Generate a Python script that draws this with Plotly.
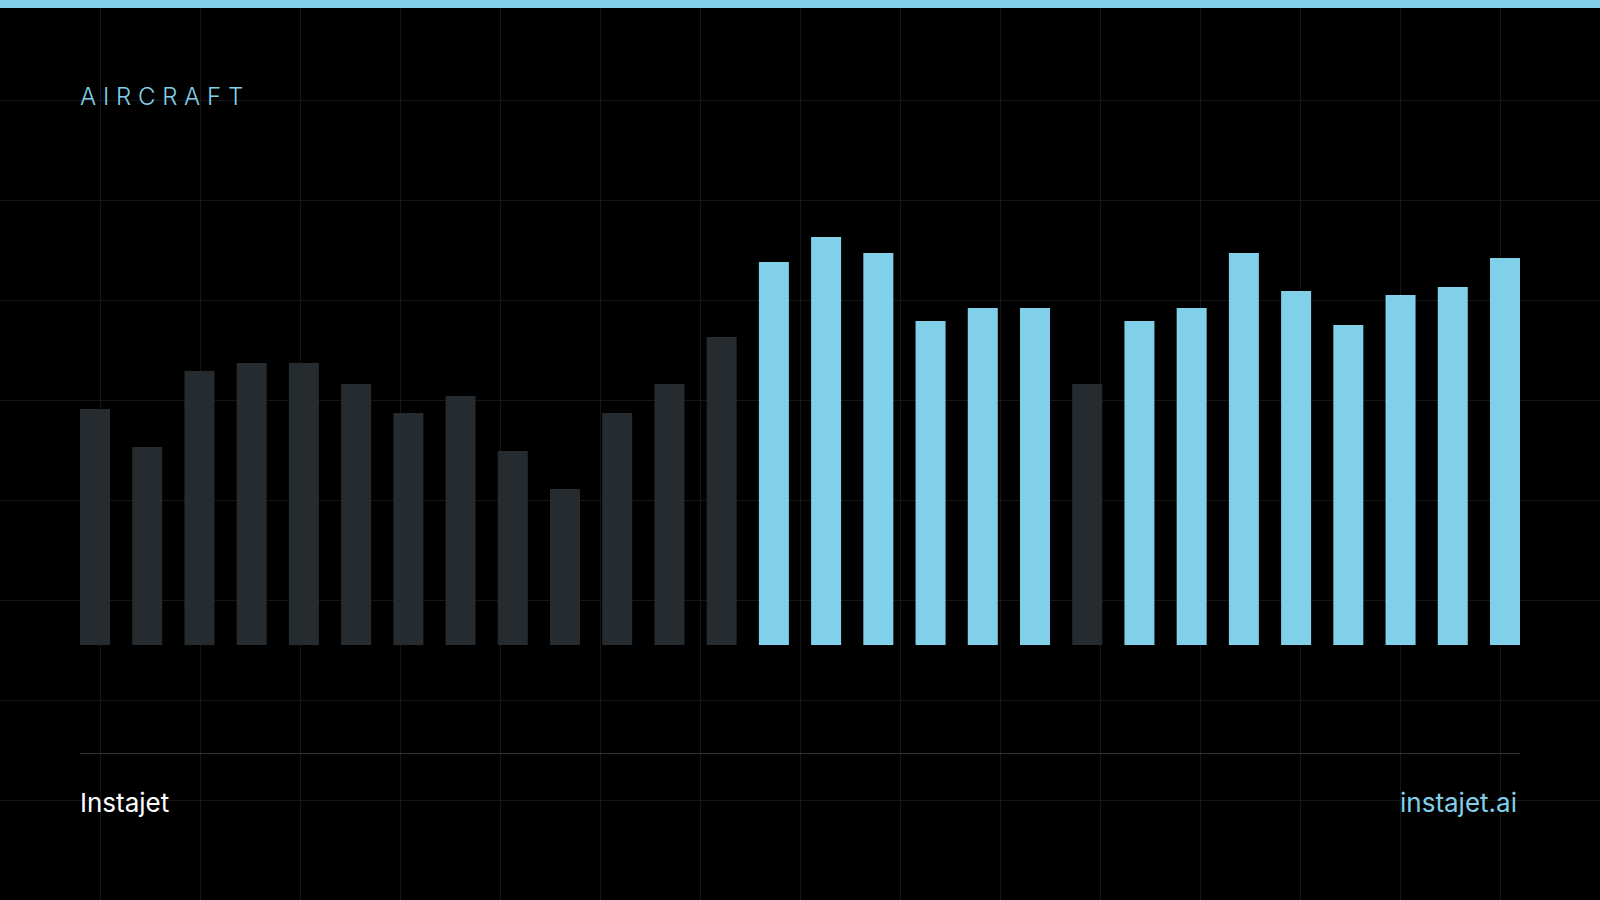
import plotly.graph_objects as go

# bar values (arbitrary units), one per period
periods = list(range(1, 29))
aircraft = [236, 198, 274, 282, 282, 261, 232, 249, 194, 156, 232, 261, 308, 383,
            408, 392, 324, 337, 337, 261, 324, 337, 392, 354, 320, 350, 358, 387]
highlight = [False] * 13 + [True] * 6 + [False] + [True] * 8

BG = "#000000"
DARK = "#252b2e"
LIGHT = "#80d0ea"
GRID = "#161616"

W, H = 1600, 900
bar_w = 30 / 52.22

fig = go.Figure()

# background grid, whole page, 100px squares
fig.add_trace(go.Scatter(x=[], y=[], xaxis="x", yaxis="y", showlegend=False, hoverinfo="skip"))

fig.add_trace(go.Bar(
    x=periods, y=aircraft, width=bar_w,
    marker=dict(color=[LIGHT if h else DARK for h in highlight], line=dict(width=0)),
    xaxis="x2", yaxis="y2", showlegend=False,
))

fig.update_layout(
    width=W, height=H,
    margin=dict(l=0, r=0, t=0, b=0),
    paper_bgcolor=BG, plot_bgcolor="rgba(0,0,0,0)",
    font=dict(family="Inter, Roboto, sans-serif"),
    xaxis=dict(domain=[0, 1], range=[0, W], dtick=100, showgrid=True, gridcolor=GRID, gridwidth=1,
               zeroline=False, showticklabels=False, ticks="", fixedrange=True),
    yaxis=dict(domain=[0, 1], range=[H, 0], dtick=100, showgrid=True, gridcolor=GRID, gridwidth=1,
               zeroline=False, showticklabels=False, ticks="", fixedrange=True),
    xaxis2=dict(domain=[80 / W, 1520 / W], range=[1 - bar_w / 2, 28 + bar_w / 2], anchor="y2",
                showgrid=False, zeroline=False, showticklabels=False, ticks=""),
    yaxis2=dict(domain=[(H - 645) / H, (H - 200) / H], range=[0, 445], anchor="x2",
                showgrid=False, zeroline=False, showticklabels=False, ticks=""),
    shapes=[
        dict(type="rect", xref="paper", yref="paper", x0=0, x1=1, y0=1 - 8 / H, y1=1,
             fillcolor=LIGHT, line=dict(width=0)),
        dict(type="line", xref="paper", yref="paper", x0=80 / W, x1=1520 / W,
             y0=1 - 753.5 / H, y1=1 - 753.5 / H, line=dict(color="#333333", width=1)),
    ],
    annotations=[
        dict(text="A I R C R A F T", xref="paper", yref="paper", x=78 / W, y=1 - 97 / H,
             xanchor="left", yanchor="middle", showarrow=False,
             font=dict(size=24, color=LIGHT, weight=300)),
        dict(text="Instajet", xref="paper", yref="paper", x=78 / W, y=1 - 802 / H,
             xanchor="left", yanchor="middle", showarrow=False,
             font=dict(size=26, color="#ffffff")),
        dict(text="instajet.ai", xref="paper", yref="paper", x=1519 / W, y=1 - 802 / H,
             xanchor="right", yanchor="middle", showarrow=False,
             font=dict(size=26, color=LIGHT)),
    ],
)

fig.write_html("out.html", config={"displayModeBar": False},
               post_script="document.body.style.margin='0';document.body.style.background='#000';")
